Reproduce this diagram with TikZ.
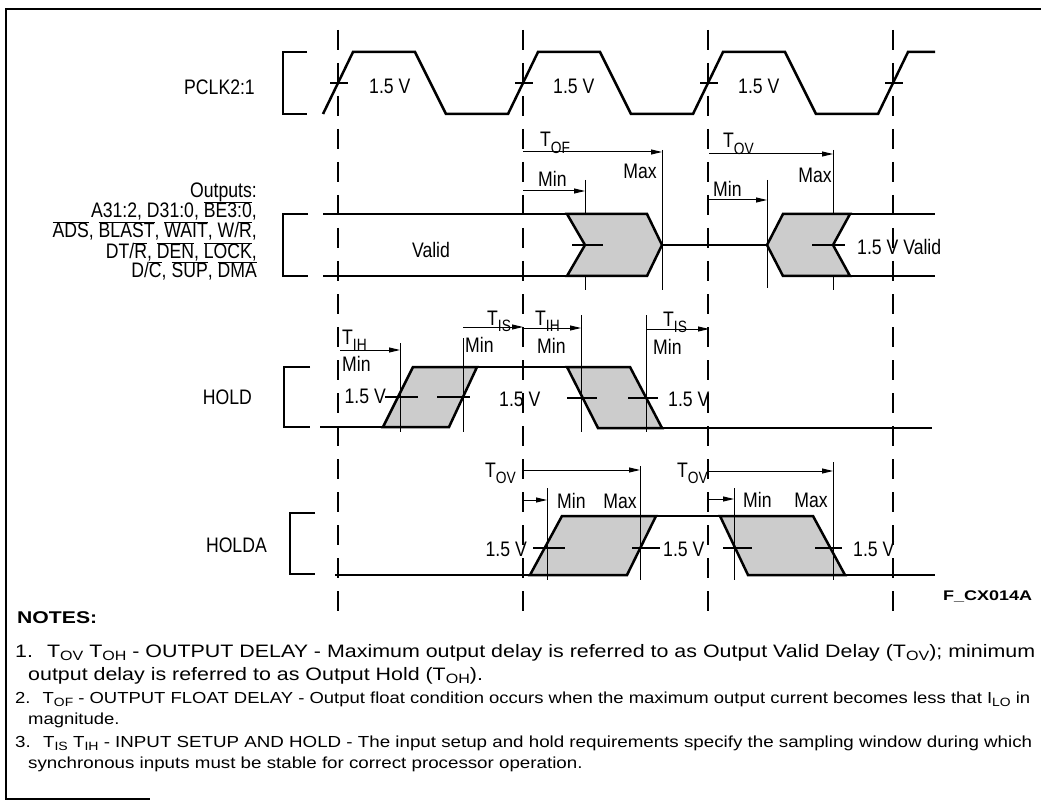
\documentclass[tikz,border=0pt]{standalone}
\usepackage{graphicx}
\usepackage{fontspec}
\setmainfont[FakeStretch=0.84]{Liberation Sans}
\usetikzlibrary{arrows.meta}
\newsavebox\fitbox
\newcommand\fitw[2]{\sbox\fitbox{#2}\xdef\lastfit{\fpeval{(#1)/(\the\wd\fitbox)}}\scalebox{\lastfit}[1]{\usebox\fitbox}}
\newcommand\samefit[1]{\scalebox{\lastfit}[1]{#1}}
\newcommand\sbs[1]{\raisebox{-0.3em}{\scalebox{0.78}{#1}}}
\newcommand\nsbs[1]{\raisebox{-0.22em}{\scalebox{0.75}{#1}}}
\newcommand\ovl[1]{$\overline{\hbox{#1}}$}
\begin{document}
\begin{tikzpicture}[x=1pt,y=-1pt,
  wave/.style={line width=2.5pt, line join=miter},
  thinl/.style={line width=1pt},
  gridl/.style={line width=1.2pt, dash pattern=on 20pt off 13pt},
  shd/.style={fill=gray!40, draw, line width=2.5pt, line join=miter},
  tk/.style={line width=2.5pt},
  brk/.style={line width=2.2pt},
  arr/.style={line width=1pt, -{Triangle[length=11pt,width=5pt]}},
  lbl/.style={inner sep=0pt, font=\fontsize{21}{23}\selectfont},
  notefont/.style={inner sep=0pt, anchor=base west},
  ]
\useasboundingbox (0,0) rectangle (1041,802);
% frame
\draw[line width=2.5pt] (1041,9) -- (6,9) -- (6,799) -- (150,799);
% dashed reference lines
\foreach \x in {338,523,708,893} \draw[gridl] (\x,30) -- (\x,614);

% ---------------- PCLK ----------------
\node[lbl, anchor=east] (pclk) at (255,87) {PCLK2:1};
\draw[brk] (307,52) -- (283,52) -- (283,114) -- (307,114);
\draw[wave] (323,114) -- (353,52) -- (415,52) -- (446,114) -- (508,114) -- (538,52) -- (600,52) -- (631,114) -- (693,114) -- (723,52) -- (785,52) -- (816,114) -- (878,114) -- (908,52) -- (935,52);
\foreach \c in {338,523,708,893} \draw[tk] (\c-8,83) -- (\c+10,83);
\node[lbl, anchor=west] (v1) at (369,86) {1.5 V};
\node[lbl, anchor=west] (v2) at (553,86) {1.5 V};
\node[lbl, anchor=west] (v3) at (738,86) {1.5 V};

% ---------------- Outputs ----------------
\node[lbl, anchor=base east] (o1) at (257,198) {Outputs:};
\node[lbl, anchor=base east] (o2) at (257,218) {A31:2, D31:0, \ovl{BE3:0},};
\node[lbl, anchor=base east] (o3) at (257,238) {\ovl{ADS}, \ovl{BLAST}, \ovl{WAIT}, W/\ovl{R},};
\node[lbl, anchor=base east] (o4) at (257,259) {DT/\ovl{R}, \ovl{DEN}, \ovl{LOCK},};
\node[lbl, anchor=base east] (o5) at (257,278) {D/\ovl{C}, \ovl{SUP}, \ovl{DMA}};
\draw[brk] (308,214) -- (283,214) -- (283,276) -- (308,276);
% timing marks
\draw[thinl] (585,180) -- (585,290);
\draw[thinl] (662,150) -- (662,290);
\draw[thinl] (767,180) -- (767,288);
\draw[thinl] (833,150) -- (833,290);
\node[lbl, anchor=base west] (tof) at (540,147) {T\sbs{OF}};
\draw[arr] (523,152) -- (662,152);
\node[lbl, anchor=east] (tofmax) at (657,171) {Max};
\node[lbl, anchor=west] (tofmin) at (538,179) {Min};
\draw[arr] (523,191) -- (585,191);
\node[lbl, anchor=base west] (tov) at (723,148) {T\sbs{OV}};
\draw[arr] (709,154) -- (833,154);
\node[lbl, anchor=east] (tovmax) at (832,175) {Max};
\node[lbl, anchor=west] (tovmin) at (713,189) {Min};
\draw[arr] (709,200) -- (767,200);
% bus
\draw[shd] (567,214) -- (647,214) -- (662,245) -- (647,276) -- (567,276) -- (585,245) -- cycle;
\draw[shd] (767,245) -- (783,214) -- (850,214) -- (833,245) -- (850,276) -- (783,276) -- cycle;
\draw[wave] (323,214) -- (567,214);
\draw[wave] (323,276) -- (567,276);
\draw[line width=1.3pt] (662,245) -- (767,245);
\draw[wave] (850,214) -- (935,214);
\draw[wave] (850,276) -- (935,276);
\draw[tk] (572,245) -- (603,245);
\draw[tk] (812,245) -- (845,245);
\node[lbl] (valid) at (431,250) {Valid};
\node[lbl, anchor=west] (valid2) at (857,247) {1.5 V Valid};

% ---------------- HOLD ----------------
\node[lbl, anchor=east] (hold) at (252,397) {HOLD};
\draw[brk] (310,367) -- (284,367) -- (284,427) -- (310,427);
\draw[shd] (383,427) -- (413,367) -- (477,367) -- (449,427) -- cycle;
\draw[shd] (567,367) -- (630,367) -- (662,428) -- (598,428) -- cycle;
\draw[wave] (320,427) -- (383,427);
\draw[wave] (477,367) -- (567,367);
\draw[wave] (662,428) -- (932,428);
\draw[thinl] (400,343) -- (400,432);
\draw[thinl] (463,338) -- (463,432);
\draw[thinl] (581,315) -- (581,432);
\draw[thinl] (646,315) -- (646,432);
\draw[tk] (385,397) -- (418,397);
\draw[tk] (437,397) -- (470,397);
\draw[tk] (567,398) -- (597,398);
\draw[tk] (628,398) -- (658,398);
\node[lbl, anchor=east] (hv1) at (386,396) {1.5 V};
\node[lbl, anchor=west] (hv2) at (499,399) {1.5 V};
\node[lbl, anchor=west] (hv3) at (668,399) {1.5 V};
\node[lbl, anchor=base west] (tih1) at (342,344) {T\sbs{IH}};
\draw[arr] (340,350) -- (400,350);
\node[lbl, anchor=west] (tih1m) at (342,364) {Min};
\node[lbl, anchor=base west] (tis1) at (487,325) {T\sbs{IS}};
\draw[arr] (463,327) -- (523,327);
\node[lbl, anchor=west] (tis1m) at (465,345) {Min};
\node[lbl, anchor=base west] (tih2) at (535,325) {T\sbs{IH}};
\draw[arr] (523,328) -- (581,328);
\node[lbl, anchor=west] (tih2m) at (537,346) {Min};
\node[lbl, anchor=base west] (tis2) at (663,326) {T\sbs{IS}};
\draw[arr] (646,329) -- (709,329);
\node[lbl, anchor=west] (tis2m) at (653,347) {Min};

% ---------------- HOLDA ----------------
\node[lbl, anchor=east] (holda) at (267,545) {HOLDA};
\draw[brk] (315,513) -- (290,513) -- (290,574) -- (315,574);
\draw[shd] (530,575) -- (562,516) -- (656,516) -- (627,575) -- cycle;
\draw[shd] (720,516) -- (813,516) -- (845,575) -- (748,575) -- cycle;
\draw[wave] (335,575) -- (530,575);
\draw[wave] (656,516) -- (720,516);
\draw[wave] (845,575) -- (935,575);
\draw[thinl] (547,488) -- (547,580);
\draw[thinl] (640,466) -- (640,580);
\draw[thinl] (734,488) -- (734,580);
\draw[thinl] (833,462) -- (833,580);
\draw[tk] (533,548) -- (565,548);
\draw[tk] (632,548) -- (660,548);
\draw[tk] (723,548) -- (752,548);
\draw[tk] (815,548) -- (842,548);
\node[lbl, anchor=east] (av1) at (527,549) {1.5 V};
\node[lbl, anchor=west] (av2) at (663,549) {1.5 V};
\node[lbl, anchor=west] (av3) at (853,549) {1.5 V};
\node[lbl, anchor=base east] (atov1) at (516,477) {T\sbs{OV}};
\draw[arr] (523,470) -- (640,470);
\draw[arr] (523,500) -- (547,500);
\node[lbl, anchor=west] (amin1) at (557,501) {Min};
\node[lbl, anchor=east] (amax1) at (637,501) {Max};
\node[lbl, anchor=base west] (atov2) at (677,477) {T\sbs{OV}};
\draw[arr] (709,471) -- (833,471);
\draw[arr] (709,499) -- (734,499);
\node[lbl, anchor=west] (amin2) at (743,500) {Min};
\node[lbl, anchor=east] (amax2) at (828,500) {Max};

% ---------------- figure id and notes ----------------
\node[notefont, font=\bfseries\fontsize{14}{16}\selectfont] (fid) at (943,600) {\fitw{89pt}{F\_CX014A}};
\node[notefont, font=\bfseries\fontsize{17}{20}\selectfont] (notes) at (17,623) {\fitw{80pt}{NOTES:}};
\node[notefont, font=\fontsize{18}{20}\selectfont] (n1a) at (15,657) {\fitw{1020pt}{1.\hspace{0.55em}T\nsbs{OV} T\nsbs{OH} - OUTPUT DELAY - Maximum output delay is referred to as Output Valid Delay (T\nsbs{OV}); minimum}};
\node[notefont, font=\fontsize{18}{20}\selectfont] (n1b) at (28,680) {\samefit{output delay is referred to as Output Hold (T\nsbs{OH}).}};
\node[notefont, font=\fontsize{16}{18}\selectfont] (n2a) at (15,703) {\fitw{1015pt}{2.\hspace{0.55em}T\nsbs{OF} - OUTPUT FLOAT DELAY - Output float condition occurs when the maximum output current becomes less that I\nsbs{LO} in}};
\node[notefont, font=\fontsize{16}{18}\selectfont] (n2b) at (28,724) {\samefit{magnitude.}};
\node[notefont, font=\fontsize{16}{18}\selectfont] (n3a) at (15,747) {\fitw{1017pt}{3.\hspace{0.55em}T\nsbs{IS} T\nsbs{IH} - INPUT SETUP AND HOLD - The input setup and hold requirements specify the sampling window during which}};
\node[notefont, font=\fontsize{16}{18}\selectfont] (n3b) at (28,768) {\samefit{synchronous inputs must be stable for correct processor operation.}};
\end{tikzpicture}
\end{document}
